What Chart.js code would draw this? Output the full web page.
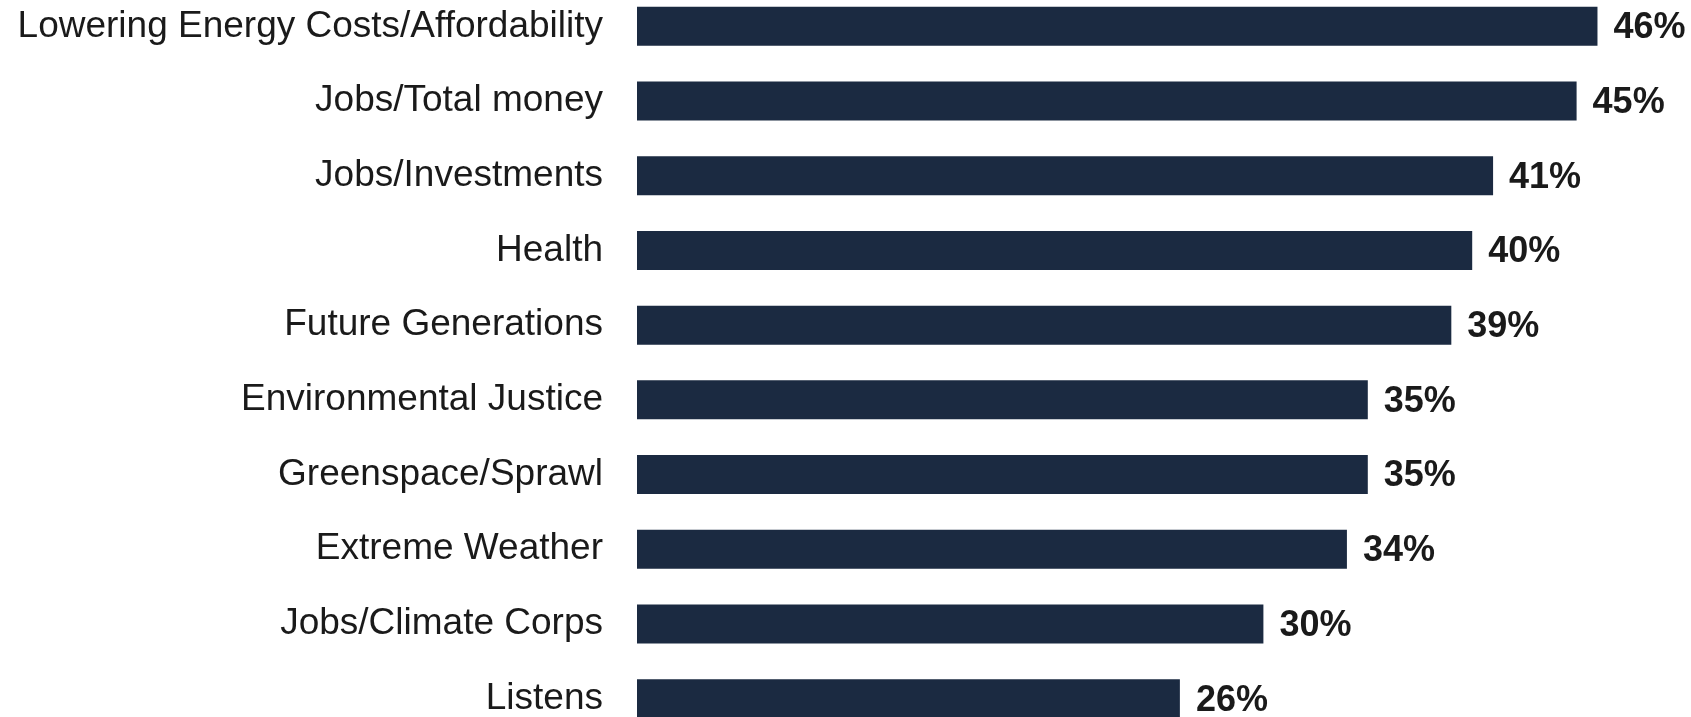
<!DOCTYPE html>
<html>
<head>
<meta charset="utf-8">
<script src="https://cdn.jsdelivr.net/npm/chart.js@4"></script>
<style>
  html, body { margin: 0; padding: 0; background: #fff; overflow: hidden; }
  #wrap { width: 1691px; height: 747px; margin-top: -11px; }
</style>
</head>
<body>
<div id="wrap"><canvas id="barChart" width="1691" height="747"></canvas></div>
<script>
// categories and values
const categories = [
  "Lowering Energy Costs/Affordability",
  "Jobs/Total money",
  "Jobs/Investments",
  "Health",
  "Future Generations",
  "Environmental Justice",
  "Greenspace/Sprawl",
  "Extreme Weather",
  "Jobs/Climate Corps",
  "Listens",
];
const values = [46, 45, 41, 40, 39, 35, 35, 34, 30, 26];

// value labels at the end of each bar
const valueLabels = {
  id: "valueLabels",
  afterDatasetsDraw(chart) {
    const ctx = chart.ctx;
    const meta = chart.getDatasetMeta(0);
    ctx.save();
    ctx.font = "bold 36px 'Liberation Sans', Arial, sans-serif";
    ctx.fillStyle = "#1a1a1a";
    ctx.textAlign = "left";
    ctx.textBaseline = "middle";
    meta.data.forEach((bar, i) => {
      ctx.fillText(values[i] + "%", bar.x + 16, bar.y + 2);
    });
    ctx.restore();
  },
};

new Chart(document.getElementById("barChart"), {
  type: "bar",
  data: {
    labels: categories,
    datasets: [
      {
        data: values,
        backgroundColor: "#1b2a41",
        borderWidth: 0,
        categoryPercentage: 1,
        barPercentage: 0.522,
      },
    ],
  },
  options: {
    indexAxis: "y",
    responsive: false,
    animation: false,
    devicePixelRatio: 1,
    layout: { padding: { left: 0, right: 10, top: 0, bottom: 0 } },
    plugins: {
      legend: { display: false },
      tooltip: { enabled: false },
    },
    scales: {
      x: {
        display: false,
        min: 0,
        max: 50,
      },
      y: {
        grid: { display: false, drawTicks: false },
        border: { display: false },
        ticks: {
          color: "#1a1a1a",
          font: { family: "'Liberation Sans', Arial, sans-serif", size: 37 },
          padding: 34,
        },
        afterFit(scale) {
          // 固定標籤區寬度，並取消上下留白
          scale.width = 637;
          scale.paddingTop = 0;
          scale.paddingBottom = 0;
        },
      },
    },
  },
  plugins: [valueLabels],
});
</script>
</body>
</html>
